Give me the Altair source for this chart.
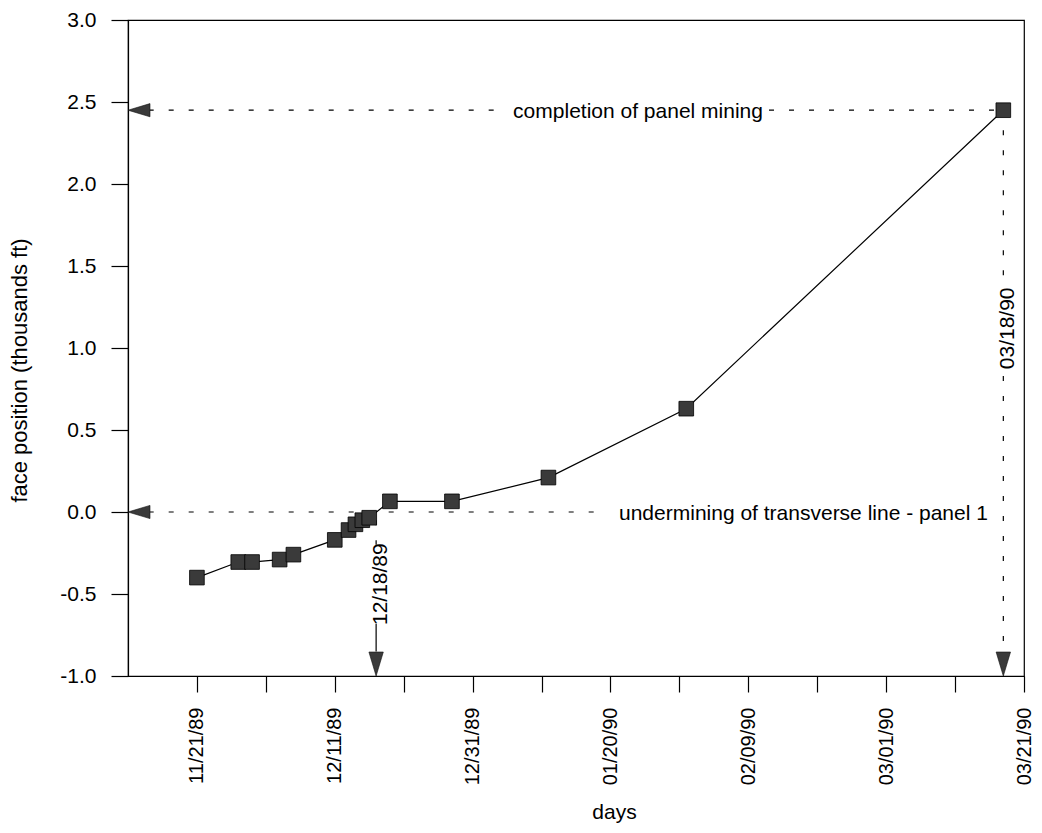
import json
import altair as alt
import pandas as pd

# ---------------- data ----------------
dates = ["1989-11-21", "1989-11-27", "1989-11-29", "1989-12-03", "1989-12-05",
         "1989-12-11", "1989-12-13", "1989-12-14", "1989-12-15", "1989-12-16",
         "1989-12-19", "1989-12-28", "1990-01-11", "1990-01-31", "1990-03-18"]
face = [-0.40, -0.305, -0.305, -0.29, -0.26,
        -0.17, -0.11, -0.075, -0.05, -0.035,
        0.065, 0.065, 0.21, 0.63, 2.45]

tick_dates = ["1989-11-21", "1989-12-01", "1989-12-11", "1989-12-21", "1989-12-31",
              "1990-01-10", "1990-01-20", "1990-01-30", "1990-02-09", "1990-02-19",
              "1990-03-01", "1990-03-11", "1990-03-21"]
tick_labels = ["11/21/89", "12/11/89", "12/31/89", "01/20/90", "02/09/90",
               "03/01/90", "03/21/90"]
y_ticks = [-1.0, -0.5, 0.0, 0.5, 1.0, 1.5, 2.0, 2.5, 3.0]
x_domain = ["1989-11-11", "1990-03-21"]
y_domain = [-1.0, 3.0]

# annotations
h_texts = ["completion of panel mining", "undermining of transverse line - panel 1"]
h_text_dates = ["1990-01-24", "1990-02-17"]
h_text_values = [2.45, 0.0]
h_dash_start = ["1989-11-14", "1990-02-12", "1989-11-14"]
h_dash_end = ["1990-01-04", "1990-03-18", "1990-01-19"]
h_dash_values = [2.45, 2.45, 0.0]
left_arrow_dates = ["1989-11-11", "1989-11-11"]
left_arrow_values = [2.45, 0.0]

v_texts = ["12/18/89", "03/18/90"]
v_text_dates = ["1989-12-17", "1990-03-18"]
v_text_values = [-0.44, 1.12]
v_dash_dates = ["1989-12-17", "1990-03-18", "1990-03-18"]
v_dash_top = [-0.05, 2.45, 0.83]
v_dash_bottom = [-0.20, 1.40, -0.85]
v_solid_dates = ["1989-12-17"]
v_solid_top = [-0.68]
v_solid_bottom = [-0.85]
down_arrow_dates = ["1989-12-17", "1990-03-18"]
down_arrow_values = [-1.0, -1.0]

FONT = "Liberation Sans"
DARK = "#3a3a3a"


def dt(s):
    y, m, d = (int(v) for v in s.split("-"))
    return alt.DateTime(year=y, month=m, date=d, utc=True)


xs = alt.Scale(type="utc", domain=[dt(d) for d in x_domain], nice=False)
ys = alt.Scale(domain=y_domain, nice=False, zero=False)

fmt = "utcFormat(datum.value, '%m/%d/%y')"
x_axis = alt.Axis(
    values=[dt(d) for d in tick_dates],
    labelExpr=f"indexof({json.dumps(tick_labels)}, {fmt}) >= 0 ? {fmt} : ''",
    labelAngle=270, labelAlign="right", labelBaseline="middle",
    labelPadding=15, tickSize=16, labelFontSize=20, labelOverlap=False,
    labelFlush=False, grid=False,
    title="days", titleX=486, titleY=142, titleAlign="center",
    titleBaseline="alphabetic", titleFontSize=21, titleLimit=2000,
)
y_axis = alt.Axis(
    values=y_ticks, format=".1f",
    tickSize=17, labelPadding=15, labelFontSize=21, grid=False,
    title="face position (thousands ft)", titleX=-109, titleY=350,
    titleAngle=270, titleAlign="center", titleBaseline="middle",
    titleFontSize=22, titleLimit=2000,
)

pts = pd.DataFrame({"date": dates, "value": face})

X = alt.X("date:T", scale=xs, axis=x_axis)
Y = alt.Y("value:Q", scale=ys, axis=y_axis)
Xn = alt.X("date:T", scale=xs)
Yn = alt.Y("value:Q", scale=ys)

line = alt.Chart(pts).mark_line(color="black", strokeWidth=1.2).encode(x=X, y=Y)
squares = alt.Chart(pts).mark_point(
    shape="square", filled=True, size=215, color=DARK, stroke="#000",
    strokeWidth=0.8, opacity=1
).encode(x=Xn, y=Yn)

hdash = alt.Chart(pd.DataFrame({"date": h_dash_start, "date2": h_dash_end,
                                "value": h_dash_values})).mark_rule(
    color="black", strokeWidth=1.2, strokeDash=[5, 15]
).encode(x=Xn, x2=alt.X2("date2"), y=Yn)

vdash = alt.Chart(pd.DataFrame({"date": v_dash_dates, "value": v_dash_top,
                                "value2": v_dash_bottom})).mark_rule(
    color="black", strokeWidth=1.2, strokeDash=[5, 15]
).encode(x=Xn, y=Yn, y2=alt.Y2("value2"))

vsolid = alt.Chart(pd.DataFrame({"date": v_solid_dates, "value": v_solid_top,
                                 "value2": v_solid_bottom})).mark_rule(
    color="black", strokeWidth=1.2
).encode(x=Xn, y=Yn, y2=alt.Y2("value2"))

left_arrows = alt.Chart(pd.DataFrame({"date": left_arrow_dates,
                                      "value": left_arrow_values})).mark_point(
    shape="M0,0L2,-0.6L2,0.6Z", filled=True, size=484, color=DARK,
    stroke="#111", strokeWidth=0.6, opacity=1
).encode(x=Xn, y=Yn)

down_arrows = alt.Chart(pd.DataFrame({"date": down_arrow_dates,
                                      "value": down_arrow_values})).mark_point(
    shape="M0,0L-0.6,-2L0.6,-2Z", filled=True, size=576, color=DARK,
    stroke="#111", strokeWidth=0.6, opacity=1
).encode(x=Xn, y=Yn)

htext = alt.Chart(pd.DataFrame({"date": h_text_dates, "value": h_text_values,
                                "label": h_texts})).mark_text(
    font=FONT, fontSize=21, color="black", align="center",
    baseline="alphabetic", dy=8
).encode(x=Xn, y=Yn, text="label:N")

vtext = alt.Chart(pd.DataFrame({"date": v_text_dates, "value": v_text_values,
                                "label": v_texts})).mark_text(
    font=FONT, fontSize=21, color="black", align="center",
    baseline="middle", angle=270, dy=5
).encode(x=Xn, y=Yn, text="label:N")

chart = alt.layer(
    line, hdash, vdash, vsolid, squares, left_arrows, down_arrows, htext, vtext
).properties(
    width=896, height=656,
    autosize=alt.AutoSizeParams(type="none"),
    padding={"left": 120, "top": 12, "right": 10, "bottom": 148},
    background="white",
).configure(
    locale=alt.Locale(number=alt.NumberLocale(
        decimal=".", thousands=",", grouping=[3], currency=["$", ""], minus="-"))
).configure_view(
    stroke="black", strokeWidth=1.2
).configure_axis(
    domainColor="black", domainWidth=1.2, tickColor="black", tickWidth=1.2,
    labelColor="black", titleColor="black", labelFont=FONT, titleFont=FONT,
    titleFontWeight="normal",
)

chart.save("out.html", embed_options={"renderer": "svg", "actions": False})
